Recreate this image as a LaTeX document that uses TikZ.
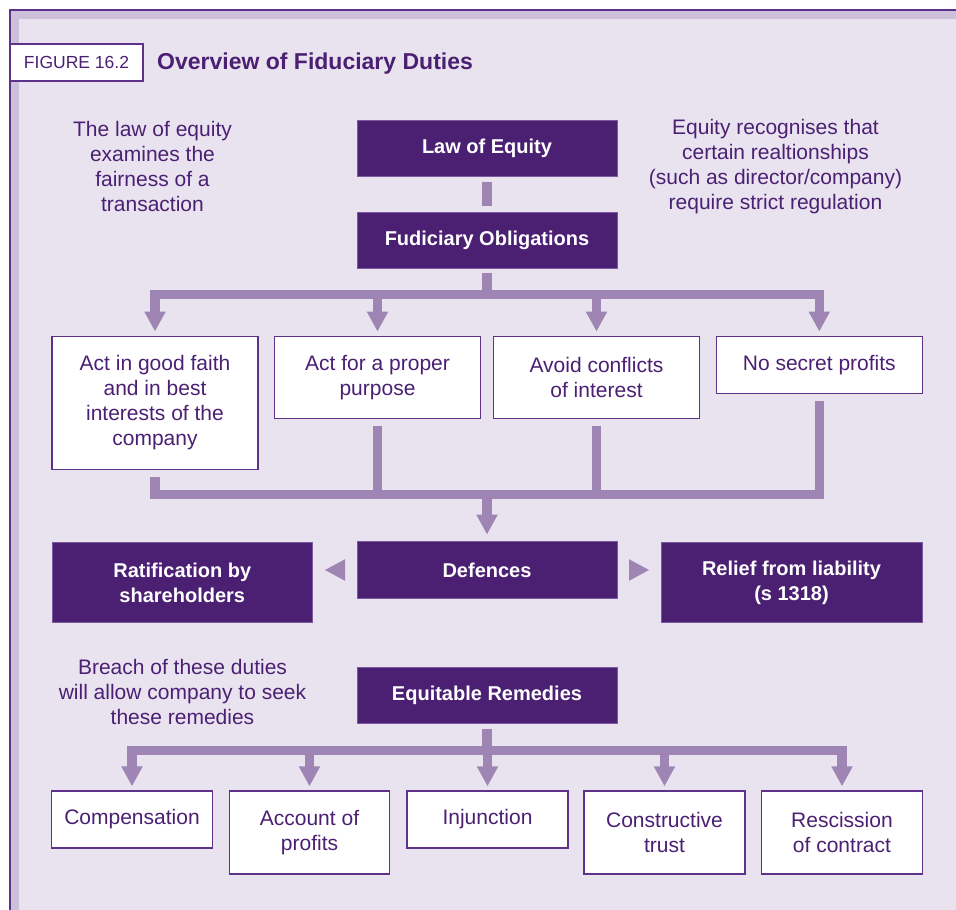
\documentclass[tikz,border=0pt]{standalone}
\usepackage{fontspec}
\setmainfont{Liberation Sans}
\usetikzlibrary{arrows.meta,calc}
\definecolor{bgc}{HTML}{E9E3F0}
\definecolor{bandc}{HTML}{CDC0DB}
\definecolor{edgec}{HTML}{5E3289}
\definecolor{darkc}{HTML}{4B2073}
\definecolor{darkedge}{HTML}{7A5A9C}
\definecolor{connc}{HTML}{9E85B4}
\definecolor{textc}{HTML}{4B2073}
\begin{document}
\begin{tikzpicture}[x=1pt,y=-1pt,
  darkbox/.style={fill=darkc, draw=darkedge, line width=0.8pt, text=white,
    font=\bfseries\fontsize{20}{25}\selectfont, align=center, inner sep=0pt},
  whitebox/.style={fill=white, draw=edgec, line width=1.3pt, text=textc,
    font=\fontsize{21}{25}\selectfont, align=center, inner sep=0pt},
  note/.style={text=textc, font=\fontsize{21}{25}\selectfont, align=center, inner sep=0pt},
  conn/.style={draw=connc, line width=9.5pt},
  bar/.style={conn, line cap=rect},
  arr/.style={conn, -{Triangle[width=20pt,length=20pt]}},
  sidetri/.style={fill=connc}
]
\useasboundingbox (0,0) rectangle (956,910);
% frame
\fill[white] (0,0) rectangle (956,910);
\fill[bandc] (10,10) rectangle (956,910);
\fill[bgc] (19,19) rectangle (956,910);
\draw[edgec, line width=1.6pt] (10,910) -- (10,10) -- (956,10);

% header
\node[fill=white, draw=edgec, line width=1.3pt, minimum width=133pt, minimum height=37pt,
  inner sep=0pt, text=textc, font=\fontsize{17.5}{20}\selectfont] (fig) at (76.5,62.5) {FIGURE 16.2};
\node[anchor=west, inner sep=0pt, text=textc, font=\bfseries\fontsize{23}{26}\selectfont] (title) at (157,64) {Overview of Fiduciary Duties};

% notes
\node[note] (n1) at (152.5,166.5) {The law of equity\\examines the\\fairness of a\\transaction};
\node[note] (n2) at (775.5,166.5) {Equity recognises that\\certain realtionships\\(such as director/company)\\require strict regulation};
\node[note] (n3) at (182.5,691.5) {Breach of these duties\\will allow company to seek\\these remedies};

% main boxes
\node[darkbox, minimum width=260pt, minimum height=56pt] (law) at (487,148) {Law of Equity};
\node[darkbox, minimum width=260pt, minimum height=56pt] (fo) at (487,240) {Fudiciary Obligations};

\node[whitebox, minimum width=206pt, minimum height=133pt] (c1) at (155,402.7) {Act in good faith\\and in best\\interests of the\\company};
\node[whitebox, minimum width=206pt, minimum height=82pt] (c2) at (377.5,377.2) {Act for a proper\\purpose};
\node[whitebox, minimum width=206pt, minimum height=82pt] (c3) at (596.5,377.2) {Avoid conflicts\\of interest};
\node[whitebox, minimum width=206pt, minimum height=57pt] (c4) at (819.3,364.7) {No secret profits};

\node[darkbox, minimum width=260pt, minimum height=57pt] (def) at (487,570) {Defences};
\node[darkbox, minimum width=260pt, minimum height=80pt] (rat) at (182.3,582.5) {Ratification by\\shareholders};
\node[darkbox, minimum width=261pt, minimum height=80pt] (rel) at (791.5,582.5) {Relief from liability\\(s 1318)};

\node[darkbox, minimum width=260pt, minimum height=56pt] (er) at (487,695) {Equitable Remedies};

\node[whitebox, minimum width=161pt, minimum height=57pt] (r1) at (132,819.5) {Compensation};
\node[whitebox, minimum width=160pt, minimum height=83pt] (r2) at (309.5,832.5) {Account of\\profits};
\node[whitebox, minimum width=161pt, minimum height=57pt] (r3) at (487.5,819.5) {Injunction};
\node[whitebox, minimum width=161pt, minimum height=83pt] (r4) at (664.5,832.5) {Constructive\\trust};
\node[whitebox, minimum width=161pt, minimum height=83pt] (r5) at (842,832.5) {Rescission\\of contract};

% connectors
\draw[conn] ([yshift=-6pt]law.south) -- ([yshift=6pt]fo.north);

\coordinate (barA) at (487,294.5);
\draw[conn] ([yshift=-5pt]fo.south) -- (barA);
\draw[bar] (c1.north |- barA) -- (c4.north |- barA);
\foreach \c in {c1,c2,c3,c4}
  \draw[arr] (\c.north |- barA) -- ([yshift=4pt]\c.north);

\coordinate (barB) at (487,494.5);
\foreach \c in {c1,c2,c3,c4}
  \draw[conn] ([yshift=-7.5pt]\c.south) -- (\c.south |- barB);
\draw[bar] (c1.south |- barB) -- (c4.south |- barB);
\draw[arr] (barB) -- ([yshift=6.5pt]def.north);

% side arrowheads from Defences towards Ratification and Relief
\fill[sidetri] ($(def.west)+(-11.6,-10.8)$) -- ($(def.west)+(-11.6,10.8)$) -- ($(def.west)+(-31.6,0)$) -- cycle;
\fill[sidetri] ($(def.east)+(11.6,-10.8)$) -- ($(def.east)+(11.6,10.8)$) -- ($(def.east)+(31.6,0)$) -- cycle;

\coordinate (barC) at (487,750.5);
\draw[conn] ([yshift=-6pt]er.south) -- (barC);
\draw[bar] (r1.north |- barC) -- (r5.north |- barC);
\foreach \r in {r1,r2,r3,r4,r5}
  \draw[arr] (\r.north |- barC) -- ([yshift=4pt]\r.north);
\end{tikzpicture}
\end{document}
